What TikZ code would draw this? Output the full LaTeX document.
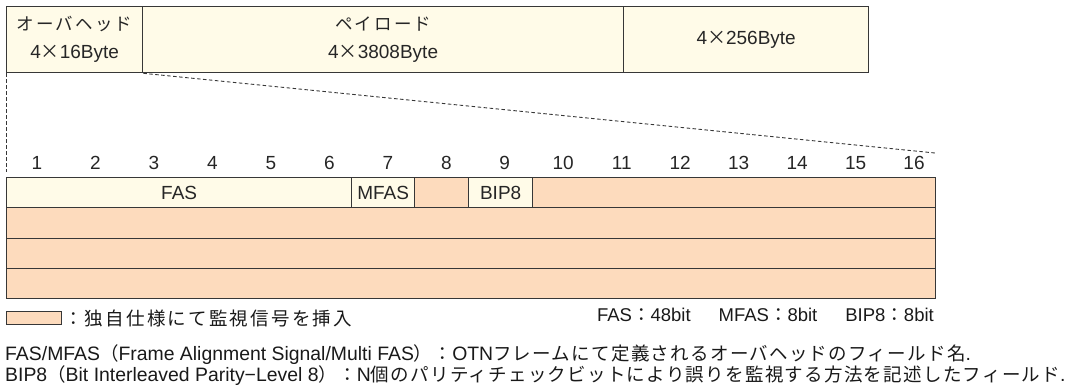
\documentclass[tikz,border=0pt]{standalone}
\usepackage{fontspec}
\setmainfont{Liberation Sans}
\newfontfamily\jp{Noto Sans CJK JP}
\newfontfamily\jps[LetterSpace=12]{Noto Sans CJK JP}
\newfontfamily\jpn[Scale=0.953,LetterSpace=7]{Noto Sans CJK JP}
\definecolor{cream}{RGB}{255,251,232}
\definecolor{peach}{RGB}{253,219,189}
\definecolor{edge}{RGB}{55,55,55}
\tikzset{
  cell/.style={draw=edge, line width=1.3pt, inner sep=0pt, anchor=north west, align=center,
    font=\fontsize{19}{28}\selectfont, text=black!85},
  num/.style={font=\fontsize{19}{20}\selectfont, text=black!85, inner sep=0pt},
  lbl/.style={font=\fontsize{18.5}{22}\selectfont, text=black!90, inner sep=0pt, anchor=west},
  note/.style={font=\fontsize{19.4}{22}\selectfont, text=black!90, inner sep=0pt, anchor=west},
  guide/.style={draw=edge, line width=0.9pt, dash pattern=on 3.5pt off 2.5pt}
}
\newcommand{\jtop}[1]{{\fontsize{17.5}{28}\jps #1}}
\begin{document}
\begin{tikzpicture}[x=1pt,y=-1pt]
\useasboundingbox (0,0) rectangle (1077,389);
% top frame
\node[cell, fill=cream, minimum width=136pt, minimum height=66pt] (oh) at (6,6)
  {\jtop{オーバヘッド}\\4{\jp ×}16Byte};
\node[cell, fill=cream, minimum width=481pt, minimum height=66pt] (pl) at (142,6)
  {\jtop{ペイロード}\\4{\jp ×}3808Byte};
\node[cell, fill=cream, minimum width=245pt, minimum height=66pt] (fec) at (623,6)
  {4{\jp ×}256Byte};
% table row 1
\node[cell, fill=cream, minimum width=345pt, minimum height=30pt] (fas) at (6,177) {FAS};
\node[cell, fill=cream, minimum width=63pt, minimum height=30pt] (mfas) at (351,177) {MFAS};
\node[cell, fill=peach, minimum width=54pt, minimum height=30pt] (b8) at (414,177) {};
\node[cell, fill=cream, minimum width=64pt, minimum height=30pt] (bip) at (468,177) {BIP8};
\node[cell, fill=peach, minimum width=403pt, minimum height=30pt] (rest) at (532,177) {};
% rows 2-4
\node[cell, fill=peach, minimum width=929pt, minimum height=31pt] (r2) at (6,207) {};
\node[cell, fill=peach, minimum width=929pt, minimum height=30pt] (r3) at (6,238) {};
\node[cell, fill=peach, minimum width=929pt, minimum height=30pt] (r4) at (6,268) {};
% column numbers
\foreach \k in {1,...,16} {
  \node[num] (n\k) at ({37+58.47*(\k-1)},163) {\k};
}
% zoom guides
\coordinate (gl) at (6,172);
\coordinate (gr) at (935,153);
\draw[guide] (oh.south west) -- (gl);
\draw[guide] (oh.south east) -- (gr);
% legend
\node[cell, fill=peach, minimum width=55pt, minimum height=13pt, line width=1pt] (key) at (6,311) {};
\node[lbl] (keytext) at (64,318) {\jps ：独自仕様にて監視信号を挿入};
\node[lbl, anchor=east] (sizes) at (934,315)
  {FAS{\jp ：}48bit\hspace{28pt}MFAS{\jp ：}8bit\hspace{28pt}BIP8{\jp ：}8bit};
\node[note] (note1) at (5,355)
  {FAS/MFAS{\jpn （}Frame Alignment Signal/Multi FAS{\jpn ）：}OTN{\jpn フレームにて定義されるオーバヘッドのフィールド名}.};
\node[note] (note2) at (5,376)
  {BIP8{\jpn （}Bit Interleaved Parity−Level 8{\jpn ）：}N{\jpn 個のパリティチェックビットにより誤りを監視する方法を記述したフィールド}.};
\end{tikzpicture}
\end{document}
